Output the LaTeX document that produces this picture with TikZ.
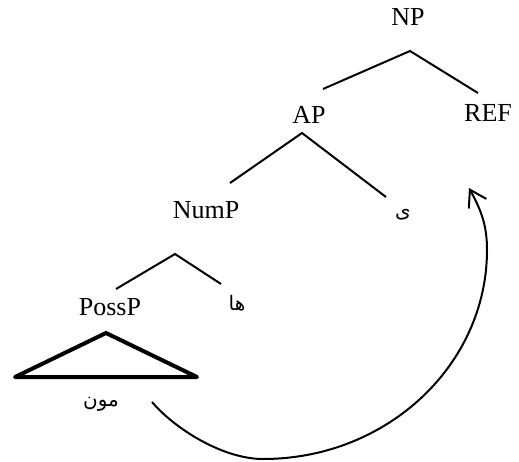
\documentclass[tikz,border=0pt]{standalone}
\usepackage{fontspec}
\setmainfont{Liberation Serif}
\newfontfamily\arabicfont[Script=Arabic]{DejaVu Sans}
\TeXXeTstate=1
\usetikzlibrary{arrows.meta}

\tikzset{
 lbl/.style={font=\fontsize{13}{15}\selectfont, inner sep=0pt},
 arab/.style={font=\arabicfont\fontsize{10}{12}\selectfont, inner sep=0pt},
 branch/.style={line width=1pt}
}

\begin{document}
\begin{tikzpicture}[x=0.5pt, y=-0.5pt, >={Straight Barb[length=8pt,width=10pt]}]
 \useasboundingbox (0,0) rectangle (519,461);
 % labels
 \node[lbl] (np) at (408,17) {NP};
 \node[lbl] (ap) at (309,115) {AP};
 \node[lbl] (ref) at (488,113) {REF};
 \node[lbl] (nump) at (206,210) {NumP};
 \node[arab] (yeh) at (403,215) {\beginR ی\endR};
 \node[lbl] (possp) at (110,307) {PossP};
 \node[arab] (ha) at (237,303) {\beginR ها\endR};
 \node[arab] (mun) at (101,404) {\beginR مون\endR};
 % branch points
 \coordinate (np-top) at (410,51);
 \coordinate (ap-end) at (323,89);
 \coordinate (ref-end) at (478,93);
 \coordinate (ap-top) at (302,133);
 \coordinate (nump-end) at (230,183);
 \coordinate (yeh-end) at (386,197);
 \coordinate (nump-top) at (175,254);
 \coordinate (possp-end) at (116,289);
 \coordinate (ha-end) at (221,284);
 \draw[branch] (ap-end) -- (np-top) -- (ref-end);
 \draw[branch] (nump-end) -- (ap-top) -- (yeh-end);
 \draw[branch] (possp-end) -- (nump-top) -- (ha-end);
 % triangle under PossP
 \coordinate (tri-top) at (106,333);
 \coordinate (tri-left) at (15,377);
 \coordinate (tri-right) at (197,377);
 \draw[line width=2pt, line join=round] (tri-top) -- (tri-right) -- (tri-left) -- cycle;
 % movement arrow
 \coordinate (mov-start) at (152,402);
 \coordinate (mov-low) at (263,459);
 \coordinate (mov-side) at (487,250);
 \coordinate (mov-tip) at (469,188);
 \draw[->, line width=1pt] (mov-start) .. controls (175,429) and (223,459) .. (mov-low)
   .. controls (387,459) and (487,365) .. (mov-side)
   .. controls (487,225) and (481,210) .. (mov-tip);
\end{tikzpicture}
\end{document}
